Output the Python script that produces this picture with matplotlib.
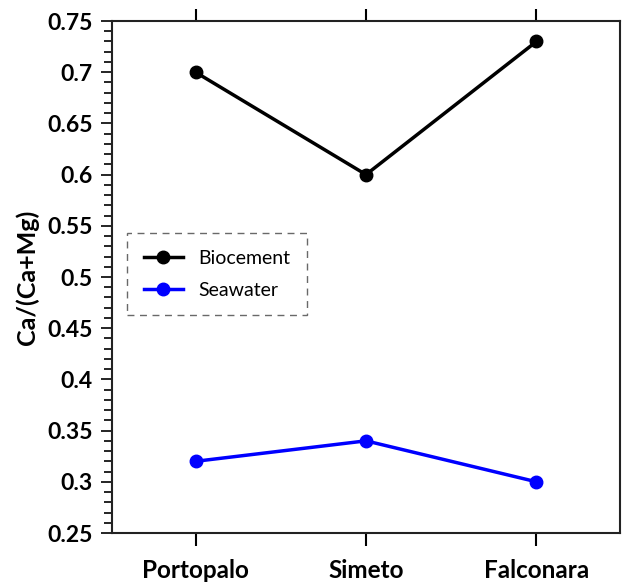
import numpy as np
import matplotlib.pyplot as plt
from matplotlib.ticker import MultipleLocator

sites = ['Portopalo', 'Simeto', 'Falconara']
biocement = [0.70, 0.60, 0.73]
seawater = [0.32, 0.34, 0.30]

plt.rcParams['font.family'] = ['Lato', 'DejaVu Sans']

fig = plt.figure(figsize=(6.22, 5.86), dpi=100)
ax = fig.add_axes([112 / 622, 1 - 533 / 586, 508 / 622, 512 / 586])

x = np.arange(len(sites))
ax.plot(x, biocement, '-o', color='black', lw=2.5, ms=9, label='Biocement')
ax.plot(x, seawater, '-o', color='#0000ff', lw=2.5, ms=9, label='Seawater')

ax.set_xlim(-0.49, 2.49)
ax.set_xticks(x)
ax.set_xticklabels(sites, fontsize=17.5, fontweight='bold')
yt = np.round(np.arange(0.25, 0.751, 0.05), 2)
ax.set_yticks(yt)
ax.set_yticklabels([f'{v:g}' for v in yt], fontsize=16.5, fontweight='bold')
ax.yaxis.set_minor_locator(MultipleLocator(0.01))
ax.set_ylim(0.25, 0.75)
ax.set_ylabel('Ca/(Ca+Mg)', fontsize=18, fontweight='bold', labelpad=6)

ax.tick_params(axis='x', which='both', top=True, direction='out', length=9, width=1.5, pad=10)
ax.tick_params(axis='y', which='major', direction='out', length=8, width=1.2, pad=6)
ax.tick_params(axis='y', which='minor', direction='out', length=6, width=1.2)
for s in ax.spines.values():
    s.set_linewidth(1.5)
    s.set_color('#222222')

leg = ax.legend(loc='upper left', bbox_to_anchor=(0.03, 0.585), fontsize=14,
                fancybox=False, frameon=True, borderpad=0.85, handlelength=2.0,
                labelspacing=0.75, borderaxespad=0)
leg.get_frame().set_edgecolor('#444444')
leg.get_frame().set_linestyle((0, (5, 4)))
leg.get_frame().set_linewidth(1)

fig.savefig('out.png', dpi=100)
